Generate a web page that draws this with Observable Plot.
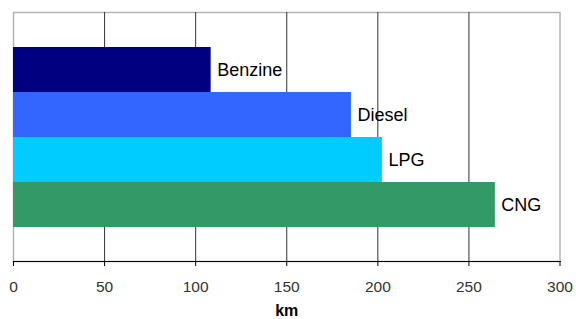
<!DOCTYPE html>
<html>
<head>
<meta charset="utf-8">
<script src="https://cdn.jsdelivr.net/npm/d3@7"></script>
<script src="https://cdn.jsdelivr.net/npm/@observablehq/plot@0.6"></script>
<style>
  html, body { margin: 0; padding: 0; background: #fff; }
  #chart svg { display: block; }
</style>
</head>
<body>
<div id="chart"></div>
<script>
const fuels = ["Benzine", "Diesel", "LPG", "CNG"];
const distances = [108.5, 185.5, 202.5, 264.5];
const barColors = ["#000080", "#3366FF", "#00CCFF", "#339966"];
const xTicks = [0, 50, 100, 150, 200, 250, 300];
const gridTicks = [50, 100, 150, 200, 250];
const xTitle = "km";

const data = fuels.map((f, i) => ({fuel: f, km: distances[i]}));
const font = "'Liberation Sans', Arial, sans-serif";

const chart = Plot.plot({
  width: 576,
  height: 319,
  marginLeft: 13,
  marginRight: 16.5,
  marginTop: 12,
  marginBottom: 58,
  style: {fontFamily: font, background: "#fff"},
  x: {domain: [0, 300]},
  y: {domain: fuels, paddingInner: 0, paddingOuter: 0.745, axis: null},
  color: {domain: fuels, range: barColors},
  marks: [
    Plot.frame({stroke: "#b4b4b4", strokeWidth: 1.5}),
    Plot.gridX(gridTicks, {stroke: "#333", strokeOpacity: 1, strokeWidth: 1}),
    Plot.barX(data, {x: "km", y: "fuel", fill: "fuel", insetTop: 0, insetBottom: 0}),
    Plot.text(data, {x: "km", y: "fuel", text: "fuel", textAnchor: "start", dx: 6, fontSize: 18, fill: "#000"}),
    Plot.frame({anchor: "bottom", stroke: "#000", strokeWidth: 1.2}),
    Plot.axisX(xTicks, {tickSize: 5, tickPadding: 14, fontSize: 15.5, fill: "#333", stroke: "#000", label: null}),
    Plot.text([xTitle], {frameAnchor: "bottom", lineAnchor: "middle", dy: 49.5, fontSize: 16, fontWeight: "bold", fill: "#000"})
  ]
});
document.getElementById("chart").appendChild(chart);
</script>
</body>
</html>
